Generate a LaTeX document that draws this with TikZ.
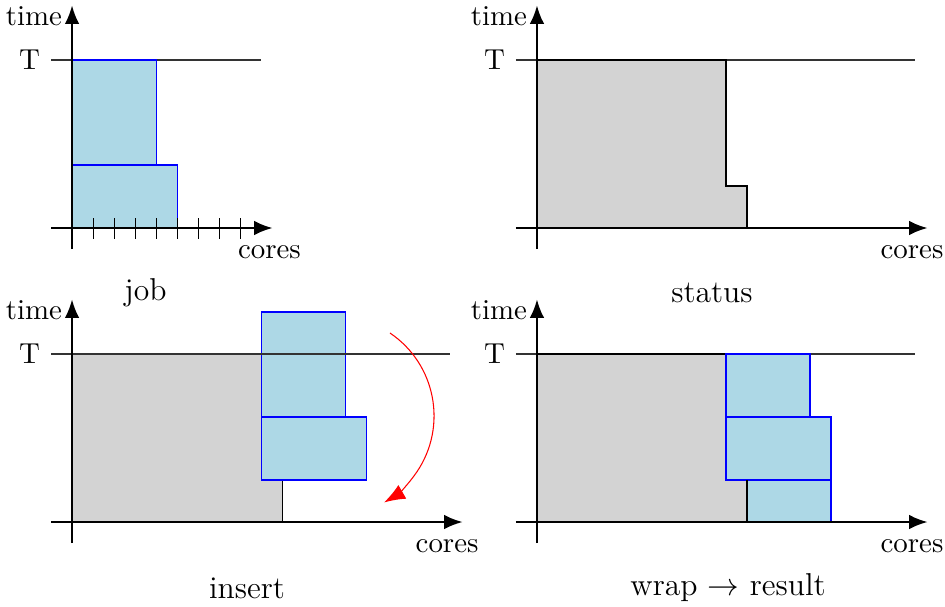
\documentclass[11pt,tikz,border=0pt]{standalone}
\usepackage{tikz}
\usetikzlibrary{arrows.meta}

\definecolor{jobblue}{HTML}{ADD8E6}
\definecolor{busygray}{HTML}{D3D3D3}

\begin{document}
\begin{tikzpicture}[
    x=0.28cm, y=0.28cm,
    axis/.style={thick, -{Latex[length=7pt,width=5.5pt]}},
    jobbox/.style={draw=blue, fill=jobblue},
    busybox/.style={draw=black, fill=busygray},
    tline/.style={thin, black!80},
    paneltitle/.style={font=\large}
]
\useasboundingbox (-3.43,-18) rectangle (41.57,10.857);

% job
\begin{scope}
\draw[tline] (-1,8) -- (9,8);
\node[left, inner sep=2pt] (jobT) at (-1.25,8) {T};
\draw[jobbox] (0,0) rectangle (4,8);
\draw[jobbox] (0,0) rectangle (5,3);
\foreach \i in {1,...,8}
    \draw (\i,-0.5) -- (\i,0.5);
\draw[axis] (-1,0) -- (9.55,0);
\draw[axis] (0,-1) -- (0,10.6);
\node[left, inner sep=2pt] (jobtime) at (-0.2,10.1) {time};
\node (jobcores) at (9.4,-1.15) {cores};
\node[paneltitle] (jobtitle) at (3.5,-3.1) {job};
\end{scope}

% status
\begin{scope}[shift={(22.14,0)}]
\draw[tline] (-1,8) -- (18,8);
\node[left, inner sep=2pt] (statT) at (-1.25,8) {T};
\draw[busybox] (0,0) -- (0,8) -- (9,8) -- (9,2) -- (10,2) -- (10,0) -- cycle;
\draw[axis] (-1,0) -- (18.6,0);
\draw[axis] (0,-1) -- (0,10.6);
\node[left, inner sep=2pt] (stattime) at (-0.2,10.1) {time};
\node (statcores) at (17.86,-1.15) {cores};
\node[paneltitle] (stattitle) at (8.33,-3.1) {status};
\end{scope}

% insert
\begin{scope}[shift={(0,-14)}]
\draw[busybox] (0,0) rectangle (10,8);
\draw[jobbox] (9,5) rectangle (13,10);
\draw[jobbox] (9,2) rectangle (14,5);
\draw[tline] (-1,8) -- (18,8);
\node[left, inner sep=2pt] (insT) at (-1.25,8) {T};
\coordinate (insfrom) at (15.14,9.0);
\draw[red, -{Latex[length=8pt,width=6pt]}] (insfrom) arc[start angle=56, end angle=-60, radius=4.76];
\draw[axis] (-1,0) -- (18.6,0);
\draw[axis] (0,-1) -- (0,10.6);
\node[left, inner sep=2pt] (instime) at (-0.2,10.1) {time};
\node (inscores) at (17.86,-1.15) {cores};
\node[paneltitle] (institle) at (8.33,-3.14) {insert};
\end{scope}

% wrap -> result
\begin{scope}[shift={(22.14,-14)}]
\draw[tline] (-1,8) -- (18,8);
\node[left, inner sep=2pt] (resT) at (-1.25,8) {T};
\draw[busybox] (0,0) -- (0,8) -- (9,8) -- (9,2) -- (10,2) -- (10,0) -- cycle;
\draw[jobbox] (9,5) rectangle (13,8);
\draw[jobbox] (9,2) rectangle (14,5);
\draw[jobbox] (10,0) rectangle (14,2);
\draw (10,0) -- (10,2);
\draw[axis] (-1,0) -- (18.6,0);
\draw[axis] (0,-1) -- (0,10.6);
\node[left, inner sep=2pt] (restime) at (-0.2,10.1) {time};
\node (rescores) at (17.86,-1.15) {cores};
\node[paneltitle] (restitle) at (9.1,-3.14) {wrap $\rightarrow$ result};
\end{scope}

\end{tikzpicture}
\end{document}
